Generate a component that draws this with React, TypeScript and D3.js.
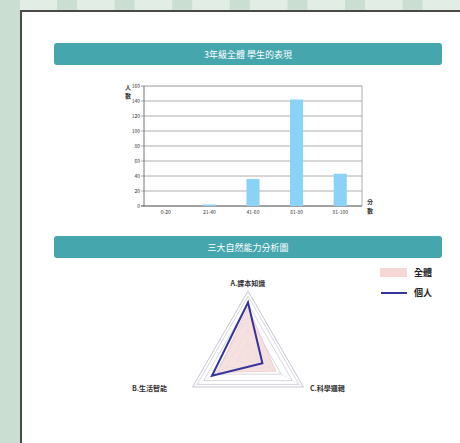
import * as d3 from 'd3';

const scoreBands = ['0-20', '21-40', '41-60', '61-80', '81-100'];
const studentCounts = [0, 2, 36, 142, 43];
const countTicks = [0, 20, 40, 60, 80, 100, 120, 140, 160];

const abilities = ['A.課本知識', 'B.生活智能', 'C.科學邏輯'];
const gradeScores = [75, 55, 50];
const personalScores = [82, 65, 26];
const radarLevels = [20, 40, 60, 80, 92, 100];

const legendItems = ['全體', '個人'];

const W = 460;
const H = 443;
const FONT = '"Noto Sans CJK TC", "Noto Sans", sans-serif';

export default function App() {
  // bar chart scales
  const x = d3.scaleBand<string>().domain(scoreBands).range([144, 362]).paddingInner(0.7).paddingOuter(0.35);
  const y = d3.scaleLinear().domain([0, 160]).range([206, 86]);

  // radar, axes run counter-clockwise from the top
  const cx = 248;
  const cy = 355;
  const r = d3.scaleLinear().domain([0, 100]).range([0, 64]);
  const angle = (i: number) => (-i * 2 * Math.PI) / abilities.length;
  const pt = (i: number, v: number): [number, number] => [
    cx + Math.sin(angle(i)) * r(v),
    cy - Math.cos(angle(i)) * r(v),
  ];
  const poly = d3.line().curve(d3.curveLinearClosed);
  const gradePath = poly(gradeScores.map((v, i) => pt(i, v))) || undefined;
  const personalPath = poly(personalScores.map((v, i) => pt(i, v))) || undefined;

  const checks = d3.range(0, 9).map((i) => 57 + i * 57.6);

  return (
    <svg width={W} height={H} style={{ position: 'absolute', left: 0, top: 0, fontFamily: FONT }}>
      {/* page background */}
      <rect x={0} y={0} width={W} height={H} fill="#e2ede5" />
      <rect x={0} y={0} width={20} height={H} fill="#cadfd1" />
      {checks.map((cxk, i) => (
        <rect key={i} x={cxk} y={0} width={20} height={10} fill="#cadfd1" />
      ))}
      <rect x={21} y={11} width={W} height={H} fill="#ffffff" stroke="#4a4a4a" strokeWidth={2} />

      {/* title bars */}
      <rect x={54} y={43} width={388} height={22} rx={3} fill="#45a6ae" />
      <text x={248} y={57.5} textAnchor="middle" fill="#fff" fontSize={9}>3年級全體 學生的表現</text>
      <rect x={54} y={236} width={388} height={22} rx={3} fill="#45a6ae" />
      <text x={248} y={250.5} textAnchor="middle" fill="#fff" fontSize={9}>三大自然能力分析圖</text>

      {/* bar chart grid */}
      {countTicks.map((t) => (
        <g key={t}>
          <line x1={141} x2={362} y1={y(t)} y2={y(t)} stroke={t === 0 ? '#444' : '#9a9a9a'} strokeWidth={t === 0 || t === 160 ? 1 : 0.8} />
          <text x={140} y={y(t) + 1.8} textAnchor="end" fontSize={5} fill="#333">{t}</text>
        </g>
      ))}
      <line x1={144} x2={144} y1={86} y2={206} stroke="#555" strokeWidth={0.8} />
      <line x1={362} x2={362} y1={86} y2={206} stroke="#999" strokeWidth={0.8} />
      {studentCounts.map((v, i) => (
        <rect key={scoreBands[i]} x={x(scoreBands[i])} y={y(v)} width={x.bandwidth()} height={y(0) - y(v)} fill="#8bd3f6" />
      ))}
      {scoreBands.map((b) => (
        <text key={b} x={(x(b) || 0) + x.bandwidth() / 2} y={214} textAnchor="middle" fontSize={5} fill="#333">{b}</text>
      ))}
      <text x={128} y={89.5} textAnchor="middle" fontSize={6} fontWeight="bold" fill="#333">人</text>
      <text x={128} y={98} textAnchor="middle" fontSize={6} fontWeight="bold" fill="#333">數</text>
      <text x={370} y={204} textAnchor="middle" fontSize={6} fontWeight="bold" fill="#333">分</text>
      <text x={370} y={212.5} textAnchor="middle" fontSize={6} fontWeight="bold" fill="#333">數</text>

      {/* radar grid */}
      {radarLevels.map((lv) => (
        <path
          key={lv}
          d={poly(abilities.map((_, i) => pt(i, lv))) || undefined}
          fill="none"
          stroke="#c6c6d4"
          strokeWidth={lv === 100 ? 1 : 0.7}
        />
      ))}
      {abilities.map((a, i) => (
        <line key={a} x1={cx} y1={cy} x2={pt(i, 100)[0]} y2={pt(i, 100)[1]} stroke="#d4d4e0" strokeWidth={0.6} strokeDasharray="2,1.5" />
      ))}
      <path d={gradePath} fill="#f5dcdc" fillOpacity={0.85} stroke="#efc4c4" strokeWidth={0.8} />
      <path d={personalPath} fill="none" stroke="#34349a" strokeWidth={2} strokeLinejoin="miter" />

      {/* radar labels */}
      <text x={248} y={286} textAnchor="middle" fontSize={7} fontWeight="bold" fill="#333">{abilities[0]}</text>
      <text x={132} y={391} textAnchor="start" fontSize={7} fontWeight="bold" fill="#333">{abilities[1]}</text>
      <text x={310} y={391} textAnchor="start" fontSize={7} fontWeight="bold" fill="#333">{abilities[2]}</text>

      {/* legend */}
      <rect x={380} y={268} width={27} height={9} fill="#f7d6d6" />
      <text x={414} y={276} fontSize={9} fontWeight="bold" fill="#222">{legendItems[0]}</text>
      <line x1={381} x2={407} y1={293} y2={293} stroke="#34349a" strokeWidth={2} />
      <text x={414} y={296} fontSize={9} fontWeight="bold" fill="#222">{legendItems[1]}</text>
    </svg>
  );
}
